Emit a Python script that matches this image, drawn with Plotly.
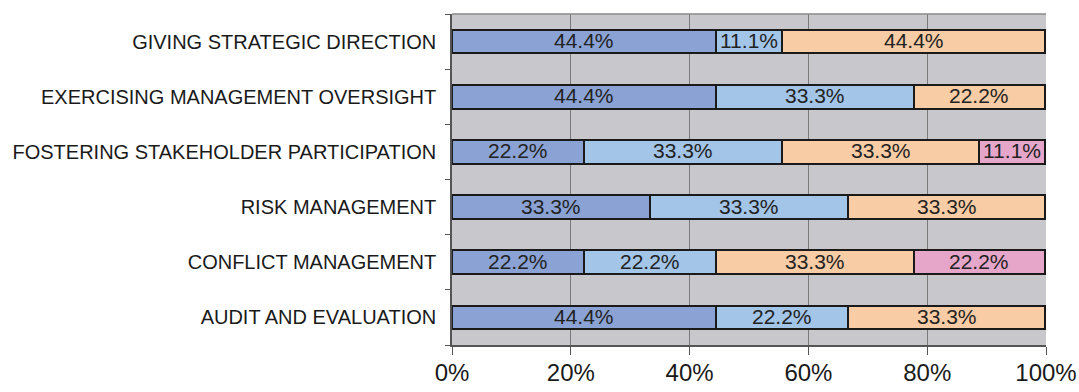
import plotly.graph_objects as go

categories = [
    "GIVING STRATEGIC DIRECTION",
    "EXERCISING MANAGEMENT OVERSIGHT",
    "FOSTERING STAKEHOLDER PARTICIPATION",
    "RISK MANAGEMENT",
    "CONFLICT MANAGEMENT",
    "AUDIT AND EVALUATION",
]
series_a = [44.4, 44.4, 22.2, 33.3, 22.2, 44.4]
series_b = [11.1, 33.3, 33.3, 33.3, 22.2, 22.2]
series_c = [44.4, 22.2, 33.3, 33.3, 33.3, 33.3]
series_d = [0, 0, 11.1, 0, 22.2, 0]
x_ticks = [0, 20, 40, 60, 80, 100]
x_tick_labels = ["0%", "20%", "40%", "60%", "80%", "100%"]

colors = ["#8AA2D4", "#A2C5E8", "#F8CCA4", "#E6A6C9"]
all_series = [series_a, series_b, series_c, series_d]

fig = go.Figure()
offsets = [0.0] * len(categories)
for vals, col in zip(all_series, colors):
    fig.add_trace(go.Bar(
        y=categories,
        x=vals,
        orientation="h",
        marker=dict(color=col, line=dict(color="#1a1a1a", width=2)),
        showlegend=False,
    ))
    # value labels centred in each segment
    for i, v in enumerate(vals):
        if v > 0:
            fig.add_annotation(
                x=offsets[i] + v / 2, y=categories[i],
                text=f"{v:.1f}%", showarrow=False,
                font=dict(family="Liberation Sans, Arial", size=21, color="#222222"),
                yshift=1,
            )
        offsets[i] += v

fig.update_layout(
    barmode="stack",
    bargap=0.57,
    width=1079,
    height=392,
    margin=dict(l=452, r=33, t=14, b=47),
    paper_bgcolor="white",
    plot_bgcolor="#C8C8CC",
    font=dict(family="Liberation Sans, Arial", color="#1a1a1a"),
)
fig.update_xaxes(
    range=[0, 100],
    tickvals=x_ticks,
    ticktext=x_tick_labels,
    tickfont=dict(size=24, color="#1a1a1a"),
    showgrid=True,
    gridcolor="#7a7a7a",
    gridwidth=1,
    ticks="outside",
    ticklen=8,
    tickcolor="#555555",
    showline=True,
    linecolor="#555555",
    linewidth=1.5,
    zeroline=False,
    automargin=False,
    ticklabelstandoff=-3,
)
fig.update_yaxes(
    categoryorder="array",
    categoryarray=categories[::-1],
    tickfont=dict(size=20, color="#1a1a1a"),
    ticks="outside",
    tickson="boundaries",
    ticklen=5,
    tickcolor="#555555",
    showline=True,
    linecolor="#555555",
    linewidth=1.5,
    showgrid=False,
    ticklabelstandoff=10,
    automargin=False,
)
# frame along the top edge of the plot area
fig.add_shape(type="line", xref="paper", yref="paper", x0=0, x1=1, y0=1, y1=1,
              line=dict(color="#8a8a8a", width=1.5))

fig.write_html("out.html")
